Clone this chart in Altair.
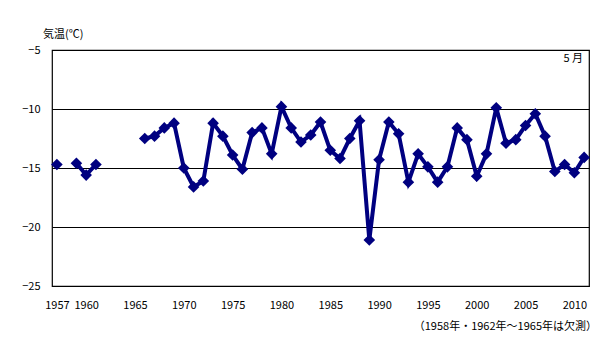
import altair as alt
import pandas as pd

years = [1957, 1959, 1960, 1961,
         1966, 1967, 1968, 1969, 1970, 1971, 1972, 1973, 1974, 1975,
         1976, 1977, 1978, 1979, 1980, 1981, 1982, 1983, 1984, 1985,
         1986, 1987, 1988, 1989, 1990, 1991, 1992, 1993, 1994, 1995,
         1996, 1997, 1998, 1999, 2000, 2001, 2002, 2003, 2004, 2005,
         2006, 2007, 2008, 2009, 2010, 2011]
temps = [-14.7, -14.6, -15.6, -14.7,
         -12.5, -12.3, -11.6, -11.2, -15.0, -16.6, -16.1, -11.2, -12.3, -13.9,
         -15.1, -12.0, -11.6, -13.8, -9.8, -11.6, -12.8, -12.2, -11.1, -13.5,
         -14.2, -12.5, -11.0, -21.1, -14.3, -11.1, -12.1, -16.2, -13.8, -14.9,
         -16.2, -14.9, -11.6, -12.6, -15.7, -13.8, -9.9, -12.9, -12.6, -11.4,
         -10.4, -12.3, -15.3, -14.7, -15.4, -14.1]
x_ticks = [1957, 1960, 1965, 1970, 1975, 1980, 1985, 1990, 1995, 2000, 2005, 2010]
y_ticks = [-25, -20, -15, -10, -5]

# segments separated by missing years (1958, 1962-1965)
seg = []
s = 0
for i, y in enumerate(years):
    if i > 0 and y - years[i - 1] > 1:
        s += 1
    seg.append(s)

df = pd.DataFrame({"year": years, "temp": temps, "seg": seg})

FONT = "Noto Sans CJK JP"
NAVY = "#000080"

x = alt.X("year:Q",
          scale=alt.Scale(domain=[1956.5, 2011.5], nice=False, zero=False),
          axis=alt.Axis(values=x_ticks, format="d", grid=False, ticks=False,
                        domain=False, labelPadding=13, labelFont=FONT,
                        labelFontSize=11, labelColor="black", title=None,
                        labelFlush=False))
y = alt.Y("temp:Q",
          scale=alt.Scale(domain=[-25, -5], nice=False, zero=False),
          axis=alt.Axis(values=y_ticks, grid=True, gridColor="black",
                        gridOpacity=1, gridWidth=1, ticks=False, domain=False,
                        labelPadding=12, labelFont=FONT, labelFontSize=11,
                        labelColor="black", title=None))

line = alt.Chart(df).mark_line(color=NAVY, strokeWidth=4).encode(
    x=x, y=y, detail="seg:N")
pts = alt.Chart(df).mark_point(shape="diamond", filled=True, color=NAVY,
                               size=135, opacity=1).encode(x=x, y=y)

ylabel = alt.Chart(pd.DataFrame({"t": ["気温(℃)"]})).mark_text(
    font=FONT, fontSize=11, align="left", baseline="middle", color="black"
).encode(text="t:N", x=alt.value(-9), y=alt.value(-15))

month = alt.Chart(pd.DataFrame({"t": ["5 月"]})).mark_text(
    font=FONT, fontSize=11, align="right", baseline="middle", color="black"
).encode(text="t:N", x=alt.value(531), y=alt.value(9))

note = alt.Chart(pd.DataFrame({"t": ["（1958年・1962年～1965年は欠測）"]})).mark_text(
    font=FONT, fontSize=11, align="right", baseline="middle", color="black"
).encode(text="t:N", x=alt.value(545), y=alt.value(277))

chart = alt.layer(line, pts, ylabel, month, note).properties(
    width=537, height=236,
    autosize=alt.AutoSizeParams(type="none"),
    padding={"left": 44, "top": 42, "right": 8, "bottom": 46},
    background="white",
).configure_view(stroke="black", strokeWidth=1.2)

chart.save("out.html", embed_options={"renderer": "svg", "actions": False})
